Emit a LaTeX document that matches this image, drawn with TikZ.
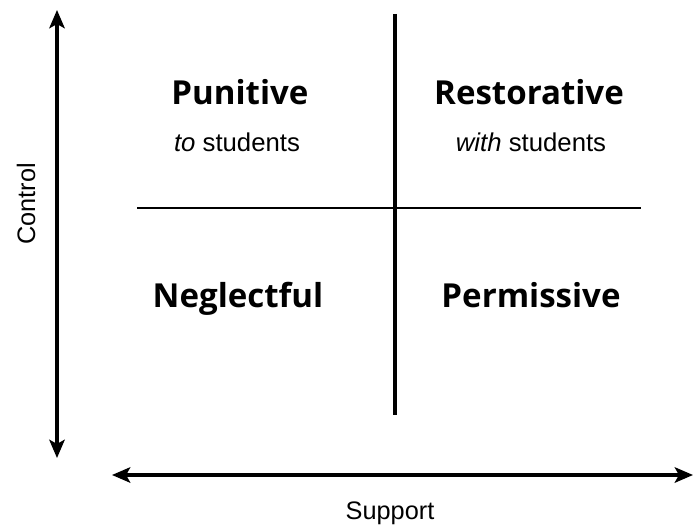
\documentclass[tikz,border=0pt]{standalone}
\usepackage{fontspec}
\setmainfont{Liberation Sans}
\newfontfamily\headfont{Open Sans}
\usetikzlibrary{arrows.meta}

\tikzset{
	quadrant/.style={font=\headfont\bfseries\fontsize{23.5}{28}\selectfont, anchor=base},
	relation/.style={font=\fontsize{18.3}{22}\selectfont, anchor=base},
	axislabel/.style={font=\fontsize{18}{22}\selectfont, anchor=base},
	axis/.style={line width=2.3pt, {Stealth[length=13pt,width=11pt,inset=3pt]}-{Stealth[length=13pt,width=11pt,inset=3pt]}}
}

\begin{document}
\begin{tikzpicture}[x=0.025cm, y=-0.025cm]
	\useasboundingbox (0,0) rectangle (695,525);
	% axes
	\coordinate (ctrltop) at (57,10);
	\coordinate (ctrlbot) at (57,458);
	\coordinate (suppleft) at (112,475);
	\coordinate (suppright) at (693,475);
	\draw [axis] (ctrlbot) -- (ctrltop);
	\draw [axis] (suppleft) -- (suppright);
	\node [axislabel, rotate=90] (control) at (35,204) {Control};
	\node [axislabel] (support) at (390,519) {Support};
	% the grid
	\coordinate (vtop) at (395,14);
	\coordinate (vbot) at (395,415);
	\coordinate (hleft) at (137,208);
	\coordinate (hright) at (641,208);
	\draw [line width=2.4pt] (vtop) -- (vbot);
	\draw [line width=1.8pt] (hleft) -- (hright);
	% quadrants
	\node [quadrant] (punitive) at (240,105) {Punitive};
	\node [relation] (tostud) at (237,151) {\textit{to} students};
	\node [quadrant] (restorative) at (529,105) {Restorative};
	\node [relation] (withstud) at (531,151) {\textit{with} students};
	\node [quadrant] (neglectful) at (238,307) {Neglectful};
	\node [quadrant] (permissive) at (531,307) {Permissive};
\end{tikzpicture}
\end{document}
